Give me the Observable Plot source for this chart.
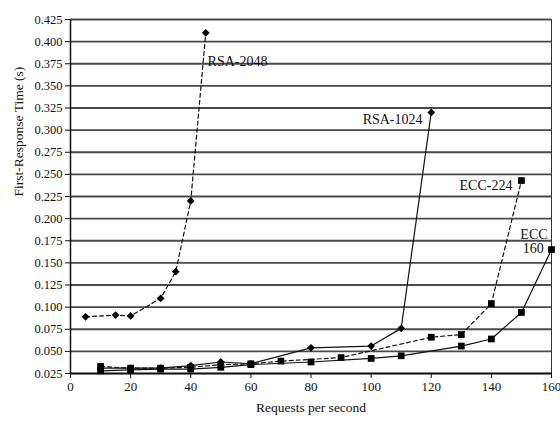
<!DOCTYPE html>
<html><head><meta charset="utf-8">
<script src="https://cdn.jsdelivr.net/npm/d3@7"></script>
<script src="https://cdn.jsdelivr.net/npm/@observablehq/plot@0.6"></script>
<style>body{margin:0;background:#fff;} svg{display:block;}</style>
</head><body><div id="chart"></div>
<script>
const rsa2048X = [5, 15, 20, 30, 35, 40, 45];
const rsa2048Y = [0.089, 0.091, 0.090, 0.110, 0.140, 0.220, 0.410];
const rsa1024X = [10, 20, 30, 40, 50, 60, 80, 100, 110, 120];
const rsa1024Y = [0.031, 0.031, 0.031, 0.034, 0.038, 0.036, 0.054, 0.056, 0.076, 0.320];
const ecc224X = [10, 20, 30, 40, 50, 60, 70, 90, 120, 130, 140, 150];
const ecc224Y = [0.033, 0.031, 0.031, 0.032, 0.035, 0.036, 0.039, 0.043, 0.066, 0.069, 0.104, 0.243];
const ecc160X = [10, 20, 30, 40, 50, 60, 80, 100, 110, 130, 140, 150, 160];
const ecc160Y = [0.028, 0.029, 0.030, 0.030, 0.032, 0.035, 0.038, 0.042, 0.045, 0.056, 0.064, 0.094, 0.165];
const xTicks = [0, 20, 40, 60, 80, 100, 120, 140, 160];
const yTicks = d3.range(0.025, 0.4251, 0.025).map(v => +v.toFixed(3));

const seriesDefs = [
  {name: "RSA-2048", xs: rsa2048X, ys: rsa2048Y, dash: "4,3", symbol: "diamond2"},
  {name: "RSA-1024", xs: rsa1024X, ys: rsa1024Y, dash: null, symbol: "diamond2"},
  {name: "ECC-224", xs: ecc224X, ys: ecc224Y, dash: "4,3", symbol: "square"},
  {name: "ECC-160", xs: ecc160X, ys: ecc160Y, dash: null, symbol: "square"}
];
const tables = seriesDefs.map(s => s.xs.map((x, i) => ({x, y: s.ys[i], series: s.name})));

const startLabels = [
  {x: 45.6, y: 0.378, text: "RSA-2048"}
];
const endLabels = [
  {x: 117.1, y: 0.3125, text: "RSA-1024"},
  {x: 147, y: 0.237, text: "ECC-224"},
  {x: 158.7, y: 0.182, text: "ECC"},
  {x: 157.4, y: 0.166, text: "160"}
];

const marks = [
  Plot.ruleY(yTicks, {stroke: "#4a4a4a", strokeWidth: 1.8}),
  Plot.ruleX([160], {stroke: "#333", strokeWidth: 1}),
  Plot.ruleX([0], {stroke: "#111", strokeWidth: 1.5}),
  Plot.ruleY([0.025], {stroke: "#111", strokeWidth: 1.5}),
  Plot.axisX({ticks: xTicks, tickSize: 5, tickPadding: 3, label: null, fontSize: 13}),
  Plot.axisY({ticks: yTicks, tickSize: 5, tickPadding: 3, tickFormat: d3.format(".3f"), label: null, fontSize: 12.5}),
  Plot.text(["Requests per second"], {frameAnchor: "bottom", dy: 38, fontSize: 13.5}),
  Plot.text(["First-Response Time (s)"], {frameAnchor: "left", dx: -52, rotate: -90, fontSize: 13.5})
];
seriesDefs.forEach((s, i) => {
  marks.push(Plot.line(tables[i], {x: "x", y: "y", stroke: "#111", strokeWidth: 1.2, strokeDasharray: s.dash}));
  marks.push(Plot.dot(tables[i], {x: "x", y: "y", symbol: () => s.symbol, fill: "#000", stroke: "none", r: s.symbol === "square" ? 3.8 : 3.5}));
});
marks.push(Plot.text(startLabels, {x: "x", y: "y", text: "text", textAnchor: "start", fontSize: 14, fill: "#111"}));
marks.push(Plot.text(endLabels, {x: "x", y: "y", text: "text", textAnchor: "end", fontSize: 14, fill: "#111"}));

const chart = Plot.plot({
  width: 560, height: 421,
  marginLeft: 70, marginRight: 9, marginTop: 19, marginBottom: 48,
  style: {fontFamily: "'Liberation Serif', 'DejaVu Serif', serif", color: "#111", background: "#fff"},
  x: {domain: [0, 160]},
  y: {domain: [0.025, 0.425]},
  marks
});
document.getElementById("chart").append(chart);
</script></body></html>
